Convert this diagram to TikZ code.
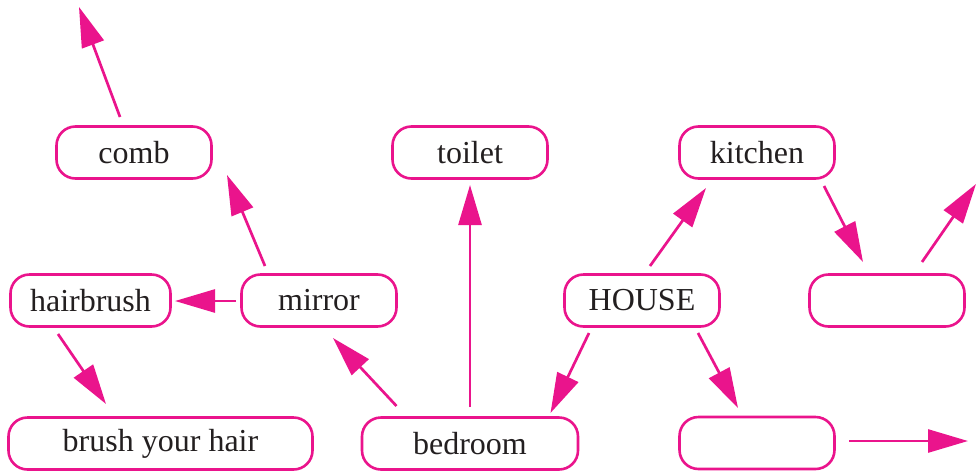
\documentclass[tikz,border=0pt]{standalone}
\usepackage{fontspec}
\setmainfont{Liberation Serif}
\usetikzlibrary{arrows.meta}
\definecolor{pinkc}{RGB}{234,20,140}
\definecolor{txt}{RGB}{35,31,32}
\begin{document}
\begin{tikzpicture}[x=1pt,y=-1pt,
  box/.style={draw=pinkc,line width=2.6pt,rounded corners=19pt,minimum height=52pt,
    minimum width=155pt,inner sep=0pt,text=txt,font=\fontsize{32}{36}\selectfont},
  arr/.style={draw=pinkc,line width=2.7pt,-{Triangle[length=40pt,width=23pt]}}]
\useasboundingbox (0,0) rectangle (977,472);
\node[box] (comb) at (134,152.5) {comb};
\node[box] (toilet) at (470,152.5) {toilet};
\node[box] (kitchen) at (757,152.5) {kitchen};
\node[box,minimum width=160pt] (hairbrush) at (90.5,300.5) {hairbrush};
\node[box] (mirror) at (319,300.5) {mirror};
\node[box] (house) at (642,300.5) {HOUSE};
\node[box] (right) at (887,300.5) {};
\node[box,minimum width=304pt] (brush) at (160.5,443.5) {brush your hair};
\node[box,minimum width=216pt] (bedroom) at (470,443.5) {bedroom};
\node[box] (bottom) at (757,443) {};
\coordinate (combout) at (79,7);
\coordinate (rightout) at (976,184);
\coordinate (bottomout) at (968,441);
\draw[arr] ([shift={(-14,-35.5)}]comb.center) -- (combout);
\draw[arr] ([shift={(-54,-34.5)}]mirror.center) -- ([shift={(93,22.5)}]comb.center);
\draw[arr] ([shift={(-83,0.5)}]mirror.center) -- ([shift={(84.5,0.5)}]hairbrush.center);
\draw[arr] ([shift={(-32.5,33.5)}]hairbrush.center) -- ([shift={(-54.5,-39.5)}]brush.center);
\draw[arr] ([shift={(-73.5,-37.5)}]bedroom.center) -- ([shift={(14,37.5)}]mirror.center);
\draw[arr] ([shift={(0,-36.5)}]bedroom.center) -- ([shift={(0,32.5)}]toilet.center);
\draw[arr] ([shift={(8,-34.5)}]house.center) -- ([shift={(-51,35.5)}]kitchen.center);
\draw[arr] ([shift={(-53,32.5)}]house.center) -- ([shift={(80.5,-30.5)}]bedroom.center);
\draw[arr] ([shift={(56,32.5)}]house.center) -- ([shift={(-19,-35)}]bottom.center);
\draw[arr] ([shift={(67,33.5)}]kitchen.center) -- ([shift={(-24,-38.5)}]right.center);
\draw[arr] ([shift={(35,-38.5)}]right.center) -- (rightout);
\draw[arr] ([shift={(92,-2)}]bottom.center) -- (bottomout);
\end{tikzpicture}
\end{document}
